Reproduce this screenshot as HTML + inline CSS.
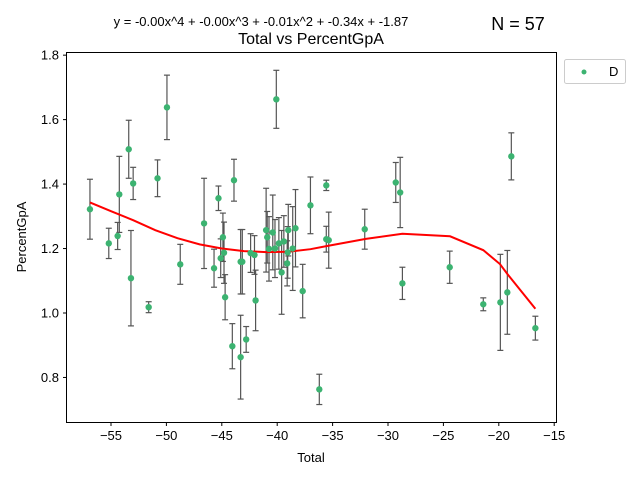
<!DOCTYPE html>
<html><head><meta charset="utf-8"><style>
body{margin:0;background:#fff}
svg text{font-family:"Liberation Sans","DejaVu Sans",sans-serif}
</style></head><body>
<svg id="chart" width="640" height="480" viewBox="0 0 640 480" xmlns="http://www.w3.org/2000/svg">
<rect width="640" height="480" fill="#fff"/>
<text x="261" y="26" font-size="13" text-anchor="middle">y = -0.00x^4 + -0.00x^3 + -0.01x^2 + -0.34x + -1.87</text>
<text x="518" y="30" font-size="18" text-anchor="middle">N = 57</text>
<text x="311" y="44" font-size="16" text-anchor="middle">Total vs PercentGpA</text>
<g id="plot"></g>
<rect x="66.5" y="52.5" width="490" height="370" fill="none" stroke="#000" stroke-width="1"/>
<g id="xt"></g>
<g id="yt"></g>
<text x="311" y="462" font-size="13" text-anchor="middle">Total</text>
<text x="26" y="237" font-size="13" text-anchor="middle" transform="rotate(-90 26 237)">PercentGpA</text>
<g>
<rect x="564.5" y="59.5" width="61" height="24" rx="2" fill="#fff" stroke="#ccc"/>
<circle cx="584" cy="72" r="2.5" fill="#3cb371"/>
<text x="609" y="76" font-size="13">D</text>
</g>
</svg>
<script>
const xVals=[-56.9,-55.2,-54.4,-54.25,-53.4,-53.2,-53.0,-51.6,-50.8,-49.95,-48.75,-46.6,-45.7,-45.3,-45.1,-44.9,-44.8,-44.7,-44.05,-43.9,-43.3,-43.15,-43.3,-42.8,-42.4,-42.05,-41.95,-41.0,-40.9,-40.74,-40.4,-40.08,-40.2,-39.85,-39.6,-39.4,-39.1,-39.0,-39.05,-38.6,-38.35,-37.7,-37.0,-36.2,-35.57,-35.57,-35.35,-32.1,-29.3,-28.9,-28.7,-24.43,-21.4,-19.86,-19.23,-18.87,-16.7];
const yVals=[1.322,1.216,1.239,1.368,1.508,1.108,1.402,1.018,1.418,1.638,1.151,1.278,1.139,1.356,1.17,1.235,1.187,1.049,0.897,1.412,1.159,1.159,0.863,0.918,1.186,1.18,1.039,1.257,1.235,1.199,1.25,1.663,1.2,1.216,1.126,1.222,1.154,1.257,1.188,1.2,1.263,1.068,1.334,0.763,1.396,1.229,1.226,1.26,1.405,1.374,1.092,1.142,1.027,1.033,1.064,1.486,0.953];
const yErr=[0.093,0.047,0.042,0.118,0.09,0.148,0.05,0.017,0.057,0.1,0.062,0.14,0.059,0.038,0.06,0.075,0.095,0.07,0.07,0.065,0.1,0.1,0.13,0.04,0.06,0.06,0.094,0.13,0.08,0.1,0.116,0.09,0.09,0.08,0.13,0.08,0.07,0.08,0.08,0.13,0.12,0.083,0.088,0.047,0.016,0.04,0.087,0.062,0.062,0.109,0.05,0.05,0.02,0.149,0.13,0.073,0.037];
const fitX=[-56.9,-55,-53,-51,-49,-47,-45,-43,-41,-39,-37,-35.5,-32,-28.7,-24.4,-21.4,-19.9,-19.2,-16.7];
const fitY=[1.343,1.316,1.288,1.257,1.232,1.213,1.200,1.192,1.189,1.190,1.198,1.208,1.23,1.246,1.238,1.195,1.152,1.12,1.013];
const xTicks=[-55,-50,-45,-40,-35,-30,-25,-20,-15];
const yTicks=[0.8,1.0,1.2,1.4,1.6,1.8];
const X=v=>111+(v+55)*11.08;
const Y=v=>313-(v-1.0)*322.3;
const NS="http://www.w3.org/2000/svg";
function mk(p,t,a){const e=document.createElementNS(NS,t);for(const k in a)e.setAttribute(k,a[k]);p.appendChild(e);return e;}
const plot=document.getElementById('plot');
for(let i=0;i<xVals.length;i++){
  const x=X(xVals[i]),y1=Y(yVals[i]+yErr[i]),y2=Y(yVals[i]-yErr[i]);
  const g=mk(plot,'g',{});
  
  
  mk(g,'line',{x1:x,x2:x,y1:y1,y2:y2,stroke:'#555','stroke-width':1.2});
  mk(g,'line',{x1:x-3,x2:x+3,y1:y1,y2:y1,stroke:'#555','stroke-width':1.2});
  mk(g,'line',{x1:x-3,x2:x+3,y1:y2,y2:y2,stroke:'#555','stroke-width':1.2});
}
const pts=fitX.map((v,i)=>X(v)+','+Y(fitY[i])).join(' ');
const fl=mk(plot,'polyline',{points:pts,fill:'none',stroke:'#ff0000','stroke-width':2});


for(let i=0;i<xVals.length;i++){
  const c=mk(plot,'circle',{cx:X(xVals[i]),cy:Y(yVals[i]),r:3.2,fill:'#3cb371'});
  
  
}
const xt=document.getElementById('xt');
xTicks.forEach(v=>{const x=X(v);
  mk(xt,'line',{x1:x,x2:x,y1:422.5,y2:426,stroke:'#000'});
  const t=mk(xt,'text',{x:x,y:440,'font-size':13,'text-anchor':'middle'});t.textContent='\u2212'+Math.abs(v);
  
  
});
const yt=document.getElementById('yt');
yTicks.forEach(v=>{const y=Y(v);
  mk(yt,'line',{x1:63,x2:66.5,y1:y,y2:y,stroke:'#000'});
  const t=mk(yt,'text',{x:59,y:y+4.5,'font-size':13,'text-anchor':'end'});t.textContent=v.toFixed(1);
  
  
});
</script>
</body></html>
